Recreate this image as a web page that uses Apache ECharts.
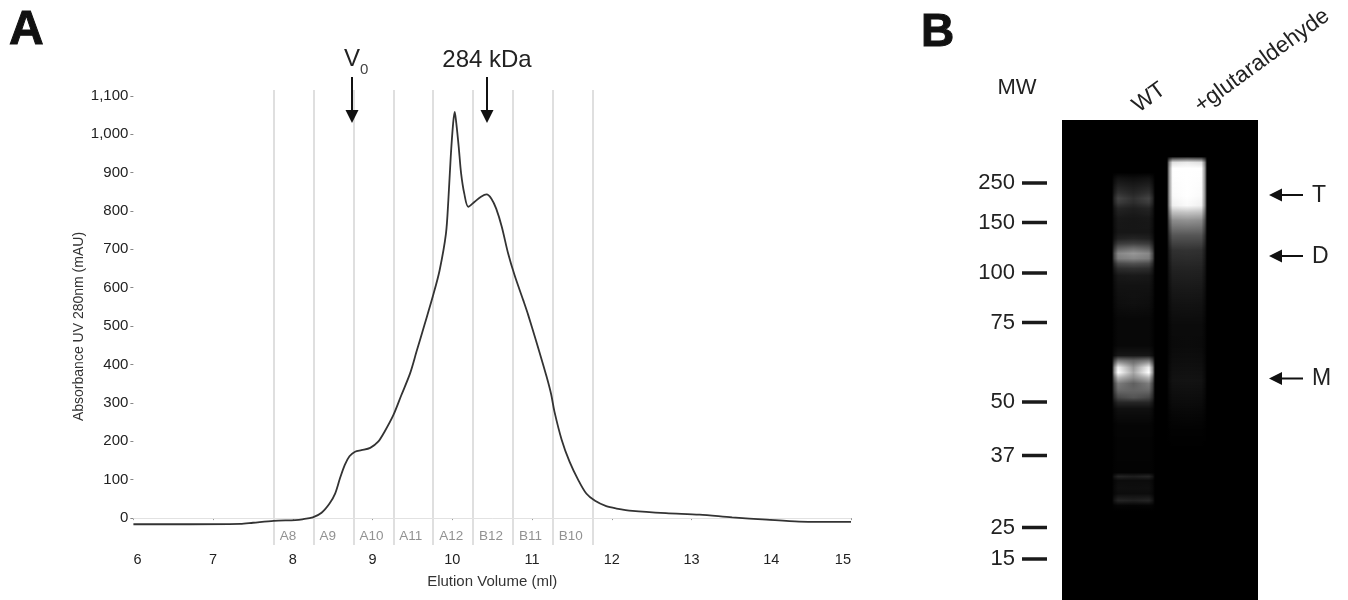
<!DOCTYPE html>
<html>
<head>
<meta charset="utf-8">
<style>html,body{margin:0;padding:0;background:#fff}#c{width:1348px;height:600px}</style>
<script src="https://cdn.jsdelivr.net/npm/echarts@6/dist/echarts.min.js"></script>
</head>
<body>
<div id="c"></div>
<script>
// Panel A: size-exclusion trace
const elutionMl = [6,6.58,7.34,7.5,7.76,8.03,8.12,8.25,8.36,8.46,8.53,8.59,8.65,8.71,8.78,8.86,8.97,9.07,9.15,9.26,9.36,9.47,9.55,9.65,9.76,9.84,9.92,9.95,9.98,10.01,10.03,10.05,10.08,10.11,10.15,10.2,10.28,10.36,10.43,10.49,10.55,10.62,10.7,10.78,10.89,10.95,11.05,11.18,11.24,11.28,11.37,11.47,11.58,11.68,11.79,11.93,12.06,12.26,12.68,13.1,13.51,13.94,14.35,15];
const absorbance = [-16,-16,-15,-12,-7,-5,-3,2,14,38,64,103,138,161,173,177,183,199,225,268,320,377,433,503,581,645,741,828,941,1028,1058,1028,967,898,845,811,824,837,843,832,806,759,689,633,567,530,462,370,322,278,205,147,99,64,45,31,25,19,13,9,2,-4,-9,-10];
const fractionEdges = [7.76,8.26,8.76,9.26,9.76,10.26,10.76,11.26,11.76];
const fractionNames = ['A8','A9','A10','A11','A12','B12','B11','B10'];
const xTicks = [6,7,8,9,10,11,12,13,14,15];
const yTicks = [0,100,200,300,400,500,600,700,800,900,1000,1100];

// Panel B: gel ladder and lanes. Migration is distance from the gel's top edge.
const mwLabels = ['250','150','100','75','50','37','25','15'];
const mwMigration = [63,102.5,153,202.5,282,335.5,407.5,439];
const laneNames = ['WT','+glutaraldehyde'];
const laneLabelAt = [73,135];
// rows: migration, lane-edge grey, lane-centre grey
const wtRows = [[52,0,0],[58,18,14],[65,32,26],[72,48,36],[78,68,48],[82,60,44],[88,36,30],[98,24,22],[112,22,22],[118,32,36],[123,58,64],[128,95,110],[133,135,150],[138,125,135],[143,75,82],[148,45,48],[155,24,26],[165,18,18],[182,14,16],[198,8,8],[225,8,8],[235,22,22],[240,120,100],[247,240,150],[252,255,165],[257,185,140],[263,125,95],[270,105,100],[277,72,85],[282,38,38],[288,16,16],[305,5,5],[352,3,3],[356,36,30],[360,12,12],[368,15,14],[373,12,12],[380,36,32],[385,5,4],[390,0,0]];
const glutRows = [[36,0,0],[38,80,90],[42,225,235],[48,255,255],[75,250,255],[85,240,250],[92,190,195],[100,140,145],[115,85,85],[130,48,50],[150,33,34],[165,25,26],[185,17,18],[205,11,11],[225,10,11],[245,14,15],[260,18,19],[275,13,14],[295,6,7],[310,2,2],[330,0,0]];
const wtLane = [50,93];
const glutLane = [105,145];
const gelBandLabels = ['T','D','M'];

function segments(rows, lane){
  const out = [];
  for (let i = 0; i + 1 < rows.length; i++){
    out.push([lane[0], lane[1], rows[i][0], rows[i][1], rows[i][2], rows[i+1][0], rows[i+1][1], rows[i+1][2]]);
  }
  return out;
}
const grey = v => { const g = Math.round(v); return 'rgb(' + g + ',' + g + ',' + g + ')'; };
function renderGel(params, api){
  const x0 = api.value(0), x1 = api.value(1), y0 = api.value(2), e0 = api.value(3), c0 = api.value(4), y1 = api.value(5), e1 = api.value(6), c1 = api.value(7);
  const a = api.coord([x0, y0]), b = api.coord([x1, y1]);
  const n = Math.max(1, Math.round(b[1] - a[1]));
  const children = [];
  for (let i = 0; i < n; i++){
    const t = i / n, e = e0 + (e1 - e0) * t, c = c0 + (c1 - c0) * t;
    children.push({
      type: 'rect',
      shape: { x: a[0], y: a[1] + i, width: b[0] - a[0], height: 1.5 },
      style: { fill: new echarts.graphic.LinearGradient(0, 0, 1, 0, [
        { offset: 0, color: '#000' }, { offset: 0.05, color: grey(e * 0.55) }, { offset: 0.14, color: grey(e) },
        { offset: 0.5, color: grey(c) }, { offset: 0.86, color: grey(e) }, { offset: 0.95, color: grey(e * 0.55) }, { offset: 1, color: '#000' }
      ]) },
      silent: true
    });
  }
  return { type: 'group', children };
}
function renderLadder(params, api){
  const a = api.coord([api.value(0), api.value(2)]), b = api.coord([api.value(1), api.value(2)]);
  return { type: 'line', shape: { x1: a[0], y1: a[1], x2: b[0], y2: b[1] }, style: { stroke: '#1a1a1a', lineWidth: 3.5 }, silent: true };
}

const FONT = '"Liberation Sans", Arial, sans-serif';
const INK = '#222';
const txt = (x, y, text, size, extra) => ({ type: 'text', x, y, z: 100, silent: true, style: Object.assign({ text, font: size + 'px ' + FONT, fill: INK, align: 'center', verticalAlign: 'middle' }, extra || {}) });
function downArrow(x){
  return [
    { type: 'rect', z: 100, silent: true, shape: { x: x - 1, y: 77, width: 2, height: 35 }, style: { fill: '#111' } },
    { type: 'polygon', z: 100, silent: true, shape: { points: [[x - 6.5, 110], [x + 6.5, 110], [x, 123]] }, style: { fill: '#111' } }
  ];
}
function leftArrow(y){
  return [
    { type: 'rect', z: 100, silent: true, shape: { x: 1280, y: y - 1, width: 23, height: 2 }, style: { fill: '#111' } },
    { type: 'polygon', z: 100, silent: true, shape: { points: [[1269, y], [1282, y - 6.5], [1282, y + 6.5]] }, style: { fill: '#111' } }
  ];
}

const fractionLines = fractionEdges.map(v => [{ coord: [v, -70] }, { coord: [v, 1115] }]);
const zeroLine = [{ coord: [6, 0], lineStyle: { color: '#e2e2e2', width: 1 } }, { coord: [15, 0] }];

const option = {
  animation: false,
  backgroundColor: '#fff',
  textStyle: { fontFamily: FONT },
  grid: [
    { left: 133.4, width: 717.6, top: 90, height: 455 },
    { left: 1062, width: 196, top: 120, height: 480, show: true, backgroundColor: '#000', borderWidth: 0 },
    { left: 1022, width: 25, top: 120, height: 480 }
  ],
  xAxis: [
    { type: 'value', gridIndex: 0, min: 6, max: 15, splitLine: { show: false },
      axisLine: { show: false },
      axisTick: { show: true, length: 2, customValues: xTicks, lineStyle: { color: '#999', width: 1 } },
      axisLabel: { customValues: xTicks, margin: 7, color: INK, fontSize: 14.5, alignMinLabel: 'left', alignMaxLabel: 'right' },
      name: 'Elution Volume (ml)', nameLocation: 'middle', nameGap: 29, nameTextStyle: { color: '#333', fontSize: 15 } },
    { type: 'value', gridIndex: 1, position: 'top', min: 0, max: 196, splitLine: { show: false },
      axisLine: { show: false }, axisTick: { show: false },
      axisLabel: { customValues: laneLabelAt, rotate: 36, margin: 12, color: INK, fontSize: 22.5,
        formatter: v => laneNames[laneLabelAt.indexOf(v)] } },
    { type: 'value', gridIndex: 2, min: 0, max: 1, show: false }
  ],
  yAxis: [
    { type: 'value', gridIndex: 0, min: -70, max: 1115, splitLine: { show: false },
      axisLine: { show: false },
      axisTick: { show: true, length: 3, customValues: yTicks, lineStyle: { color: '#888', width: 1 } },
      axisLabel: { customValues: yTicks, margin: 5, color: INK, fontSize: 15 },
      name: 'Absorbance UV 280nm (mAU)', nameLocation: 'middle', nameGap: 47, nameMoveOverlap: false,
      nameTextStyle: { color: '#333', fontSize: 14, padding: [0, 18, 0, 0] } },
    { type: 'value', gridIndex: 1, inverse: true, min: 0, max: 480, splitLine: { show: false },
      axisLine: { show: false }, axisTick: { show: false }, axisLabel: { show: false } },
    { type: 'value', gridIndex: 2, inverse: true, min: 0, max: 480, splitLine: { show: false },
      axisLine: { show: false }, axisTick: { show: false },
      axisLabel: { customValues: mwMigration, margin: 7, color: INK, fontSize: 22,
        formatter: v => mwLabels[mwMigration.indexOf(v)] } }
  ],
  series: [
    { name: 'Absorbance', type: 'line', xAxisIndex: 0, yAxisIndex: 0,
      data: elutionMl.map((x, i) => [x, absorbance[i]]),
      showSymbol: false, smooth: 0.3, clip: false, z: 5,
      lineStyle: { color: '#333', width: 1.8 },
      markLine: { silent: true, symbol: 'none', animation: false, label: { show: false },
        lineStyle: { color: '#d4d4d4', width: 1.5, type: 'solid' },
        data: fractionLines.concat([zeroLine]) } },
    { name: 'Fractions', type: 'scatter', xAxisIndex: 0, yAxisIndex: 0, symbolSize: 0, silent: true,
      data: fractionNames.map((n, i) => ({ value: [fractionEdges[i], -47], name: n })),
      label: { show: true, position: 'right', distance: 6, formatter: '{b}', color: '#777', fontSize: 13.5 } },
    { name: 'WT', type: 'custom', xAxisIndex: 1, yAxisIndex: 1, silent: true, renderItem: renderGel, data: segments(wtRows, wtLane) },
    { name: '+glutaraldehyde', type: 'custom', xAxisIndex: 1, yAxisIndex: 1, silent: true, renderItem: renderGel, data: segments(glutRows, glutLane) },
    { name: 'MW ladder', type: 'custom', xAxisIndex: 2, yAxisIndex: 2, silent: true, renderItem: renderLadder, data: mwMigration.map(m => [0, 1, m]) }
  ],
  graphic: [
    txt(9, 31, 'A', 48, { font: 'bold 48px ' + FONT, fill: '#111', align: 'left', stroke: '#111', lineWidth: 1 }),
    txt(921, 33, 'B', 46, { font: 'bold 46px ' + FONT, fill: '#111', align: 'left', stroke: '#111', lineWidth: 1 }),
    txt(344, 59, 'V', 24, { align: 'left' }),
    txt(360, 70, '0', 15, { align: 'left', fill: '#444' }),
    txt(487, 60, '284 kDa', 24),
    txt(1017, 88, 'MW', 22),
    txt(1312, 195.5, gelBandLabels[0], 23, { align: 'left' }),
    txt(1312, 257, gelBandLabels[1], 23, { align: 'left' }),
    txt(1312, 379, gelBandLabels[2], 23, { align: 'left' })
  ].concat(downArrow(352), downArrow(487), leftArrow(195), leftArrow(256), leftArrow(378.5))
};
const chart = echarts.init(document.getElementById('c'), null, { renderer: 'canvas' });
chart.setOption(option);
</script>
</body>
</html>
